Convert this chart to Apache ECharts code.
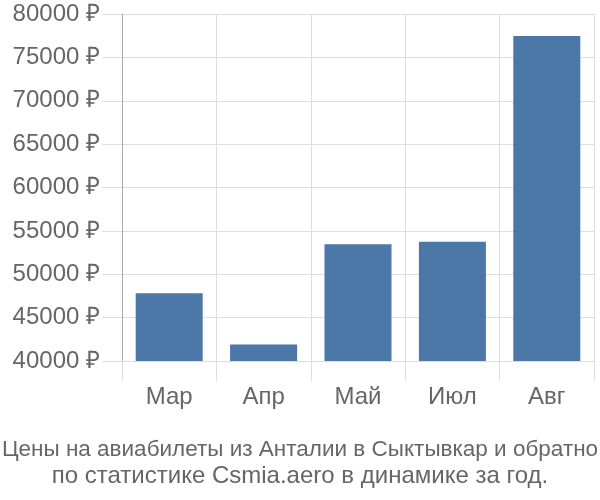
<!DOCTYPE html>
<html><head><meta charset="utf-8">
<script src="https://cdn.jsdelivr.net/npm/echarts@6/dist/echarts.min.js"></script>
<style>html,body{margin:0;padding:0;background:#fff}#c{width:600px;height:500px}</style>
</head><body><div id="c"></div>
<script>
const categories = ['Мар', 'Апр', 'Май', 'Июл', 'Авг'];
const prices = [47800, 41900, 53450, 53750, 77460];
const yTicks = [40000, 45000, 50000, 55000, 60000, 65000, 70000, 75000, 80000];
const titleLines = ['Цены на авиабилеты из Анталии в Сыктывкар и обратно', 'по статистике Csmia.aero в динамике за год.'];

const chart = echarts.init(document.getElementById('c'), null, {renderer: 'canvas'});
const font = 'Liberation Sans, Arial, sans-serif';
chart.setOption({
  animation: false,
  title: [{
    text: titleLines[0],
    left: 'center', top: 431,
    textStyle: {fontFamily: font, fontSize: 22.5, fontWeight: 'normal', color: '#666', lineHeight: 27}
  }, {
    text: titleLines[1],
    left: 'center', top: 458,
    textStyle: {fontFamily: font, fontSize: 24, fontWeight: 'normal', color: '#666', lineHeight: 27}
  }],
  grid: {left: 122, right: 6, top: 14, bottom: 139, containLabel: false},
  xAxis: {
    type: 'category', data: categories,
    axisLine: {show: false},
    axisTick: {show: true, length: 20, lineStyle: {color: '#ddd', width: 1}},
    splitLine: {show: true, lineStyle: {color: '#ddd', width: 1}},
    axisLabel: {fontFamily: font, fontSize: 24, color: '#666', margin: 24}
  },
  yAxis: {
    type: 'value', min: yTicks[0], max: yTicks[yTicks.length - 1], interval: 5000,
    axisLine: {show: true, lineStyle: {color: '#aaa', width: 1}},
    axisTick: {show: true, length: 20, lineStyle: {color: '#ddd', width: 1}},
    splitLine: {show: true, lineStyle: {color: '#ddd', width: 1}},
    axisLabel: {fontFamily: font, fontSize: 24, color: '#666', margin: 22, formatter: v => v + ' ₽'}
  },
  series: [{
    type: 'bar', data: prices, barCategoryGap: '29%',
    itemStyle: {color: '#4c78a8'}
  }]
});
</script></body></html>
